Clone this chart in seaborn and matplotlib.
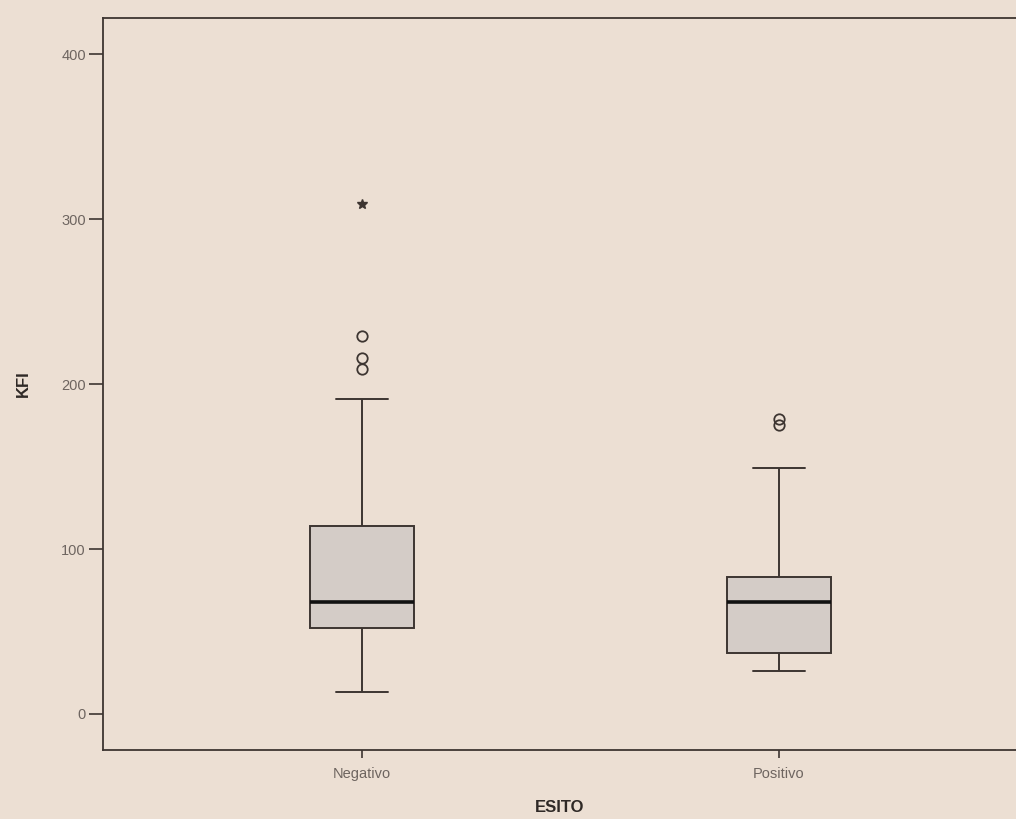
import seaborn as sns
import pandas as pd
import matplotlib.pyplot as plt
import numpy as np

# valori (KFI per esito)
kfi_negativo = [13, 25, 33, 40, 47, 52, 55, 58, 61, 65, 68, 75, 83, 92, 103, 114,
                191, 209, 216, 229, 309]
kfi_positivo = [26, 29, 31, 33, 35, 37, 44, 51, 57, 63, 68, 71, 74, 77, 80, 83,
                99, 122, 149, 175, 179]
gruppi = ["Negativo", "Positivo"]
y_ticks = [0, 100, 200, 300, 400]

df = pd.DataFrame({
    "ESITO": [gruppi[0]] * len(kfi_negativo) + [gruppi[1]] * len(kfi_positivo),
    "KFI": kfi_negativo + kfi_positivo,
})

sfondo = "#ecdfd3"
linea = "#3d3531"
testo = "#6e6560"

sns.set_style("white")
plt.rcParams["font.family"] = ["Liberation Sans", "DejaVu Sans"]

fig = plt.figure(figsize=(10.16, 8.19), dpi=100, facecolor=sfondo)
ax = fig.add_axes([0.101, 0.084, 0.899, 0.894], facecolor=sfondo)

sns.boxplot(data=df, x="ESITO", y="KFI", order=gruppi, ax=ax, width=0.25,
            showfliers=False, color="#d6ccc5", linewidth=1.4, linecolor=linea,
            medianprops={"color": "#111111", "linewidth": 2.6})

# outlier (cerchi) ed estremi (stelle) come in SPSS
for i, g in enumerate(gruppi):
    v = np.array(df.loc[df["ESITO"] == g, "KFI"])
    q1, q3 = np.percentile(v, [25, 75])
    iqr = q3 - q1
    out = v[(v > q3 + 1.5 * iqr) & (v <= q3 + 3 * iqr)]
    ext = v[v > q3 + 3 * iqr]
    ax.plot([i] * len(out), out, "o", mfc="none", mec=linea, ms=7.5, mew=1.3)
    ax.plot([i] * len(ext), ext, "*", color=linea, ms=7)

ax.set_xlim(-0.621, 1.568)
ax.set_ylim(-22, 422)
ax.set_yticks(y_ticks)
for s in ["left", "bottom", "top"]:
    ax.spines[s].set_color(linea)
    ax.spines[s].set_linewidth(1.3)
ax.spines["right"].set_visible(False)
ax.tick_params(axis="both", direction="out", length=10, width=1.2, color=linea,
               labelcolor=testo, labelsize=10.5, left=True, bottom=True)
ax.tick_params(axis="y", pad=2)
ax.tick_params(axis="x", length=6, pad=6)
ax.set_xlabel("ESITO", fontsize=12, fontweight="bold", color="#2f2926", labelpad=14)
ax.set_ylabel("KFI", fontsize=12, fontweight="bold", color="#2f2926", labelpad=22)

fig.savefig("out.png", dpi=100, facecolor=sfondo)
